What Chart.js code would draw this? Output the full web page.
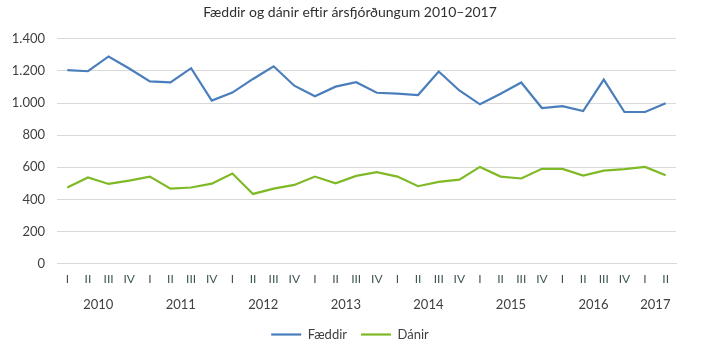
<!DOCTYPE html>
<html>
<head>
<meta charset="utf-8">
<script src="https://cdn.jsdelivr.net/npm/chart.js@4"></script>
<style>
  html, body { margin: 0; padding: 0; background: #fff; }
  #wrap { width: 713px; height: 352px; }
</style>
</head>
<body>
<div id="wrap"><canvas id="myChart" width="713" height="352"></canvas></div>
<script>
const quarters = ["I", "II", "III", "IV"];
const years = ["2010", "2011", "2012", "2013", "2014", "2015", "2016", "2017"];
// 2010 Q1 .. 2017 Q2
const quarterLabels = years.flatMap(y => y === "2017" ? ["I", "II"] : quarters);

const faeddir = [1205, 1198, 1290, 1215, 1135, 1129, 1217, 1015, 1065, 1150,
                 1229, 1108, 1042, 1102, 1130, 1064, 1058, 1050, 1196, 1078,
                 992, 1058, 1128, 969, 981, 950, 1146, 944, 944, 998];
const danir = [474, 536, 496, 517, 542, 467, 474, 498, 561, 434,
               467, 490, 542, 500, 546, 569, 542, 482, 509, 523,
               602, 542, 530, 590, 590, 548, 579, 588, 602, 550];

const fmt = (v) => String(v).replace(/\B(?=(\d{3})+(?!\d))/g, ".");
const FONT = "Lato";

// year labels centred under their quarters
const yearLabels = {
  id: "yearLabels",
  afterDraw(chart) {
    const x = chart.scales.x;
    const c = chart.ctx;
    c.save();
    c.font = "13px " + FONT;
    c.fillStyle = "#404040";
    c.textAlign = "center";
    c.textBaseline = "middle";
    years.forEach((y, i) => {
      const first = i * 4;
      const last = Math.min(first + 3, quarterLabels.length - 1);
      const px = (x.getPixelForValue(first) + x.getPixelForValue(last)) / 2;
      c.fillText(y, px, 305);
    });
    c.restore();
  }
};

const ctx = document.getElementById("myChart");
const chart = new Chart(ctx, {
  type: "line",
  data: {
    labels: quarterLabels,
    datasets: [{
      label: "Fæddir",
      data: faeddir,
      borderColor: "#4a7ebb",
      backgroundColor: "#4a7ebb",
      borderWidth: 2.2,
      pointRadius: 0,
      tension: 0
    },
    {
      label: "Dánir",
      data: danir,
      borderColor: "#7fb926",
      backgroundColor: "#7fb926",
      borderWidth: 2.2,
      pointRadius: 0,
      tension: 0
    }]
  },
  options: {
    responsive: false,
    animation: false,
    layout: { padding: { left: 0, right: 13, top: 0, bottom: 1 } },
    plugins: {
      title: {
        display: true,
        text: "Fæddir og dánir eftir ársfjórðungum 2010–2017",
        color: "#303030",
        font: { family: FONT, size: 14, weight: "normal" },
        padding: { top: 4, bottom: 18 }
      },
      legend: {
        position: "bottom",
        labels: {
          usePointStyle: true,
          pointStyle: "line",
          pointStyleWidth: 30,
          color: "#404040",
          font: { family: FONT, size: 13 },
          padding: 14
        }
      },
      tooltip: { enabled: false }
    },
    scales: {
      x: {
        offset: true,
        grid: { display: false },
        border: { color: "#d9d9d9" },
        ticks: {
          autoSkip: false,
          maxRotation: 0,
          color: "#3f5555",
          font: { family: FONT, size: 12 },
          padding: 0
        },
        afterFit: (scale) => { scale.height += 28; }
      },
      y: {
        min: 0,
        max: 1400,
        grid: { color: "#d9d9d9", drawTicks: false },
        border: { display: false },
        ticks: {
          stepSize: 200,
          color: "#404040",
          font: { family: FONT, size: 13 },
          padding: 12,
          callback: (v) => fmt(v)
        },
        afterFit: (scale) => { scale.width = 57; }
      },
      y2: {
        position: "right",
        grid: { display: false },
        border: { display: false },
        ticks: { display: false },
        afterFit: (scale) => { scale.width = 24; }
      }
    }
  },
  plugins: [yearLabels]
});
</script>
</body>
</html>
